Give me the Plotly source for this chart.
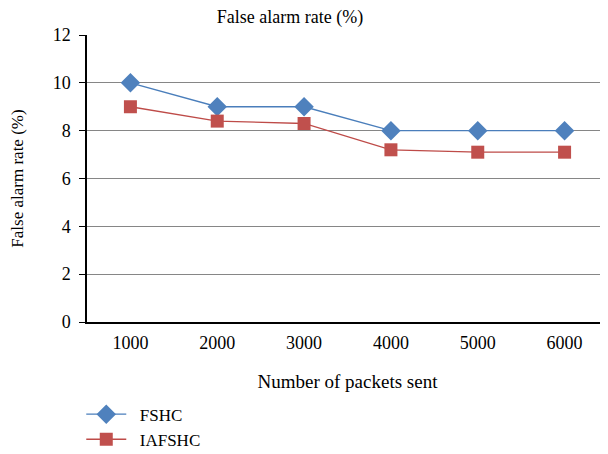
import plotly.graph_objects as go

categories = ["1000", "2000", "3000", "4000", "5000", "6000"]
fshc = [10, 9, 9, 8, 8, 8]
iafshc = [9.0, 8.4, 8.3, 7.2, 7.1, 7.1]
y_ticks = [0, 2, 4, 6, 8, 10, 12]

font_family = "Liberation Serif"
nb = "\u00a0\u00a0"

fig = go.Figure()
fig.add_trace(go.Scatter(
    x=categories, y=fshc, name=nb + "FSHC", mode="lines+markers",
    line=dict(color="#4A7EBB", width=1.3),
    marker=dict(symbol="diamond", size=15, color="#4F81BD"),
))
fig.add_trace(go.Scatter(
    x=categories, y=iafshc, name=nb + "IAFSHC", mode="lines+markers",
    line=dict(color="#BE4B48", width=1.3),
    marker=dict(symbol="square", size=13, color="#C0504D"),
))

# the page body adds an 8px offset; figure sized to fit the 608x454 window
fig.update_layout(
    width=600, height=446,
    margin=dict(l=79, r=0, t=27, b=132, autoexpand=False),
    paper_bgcolor="white", plot_bgcolor="white",
    font=dict(family=font_family, size=18, color="black"),
    title=dict(text="False alarm rate (%)", x=282 / 600, xref="container", xanchor="center",
               y=1 - 9 / 446, yref="container", yanchor="middle", font=dict(size=18)),
    showlegend=True,
    legend=dict(orientation="v", x=-0.011, xanchor="left", y=-0.26, yanchor="top",
                font=dict(size=17), tracegroupgap=0, itemwidth=40,
                bgcolor="rgba(0,0,0,0)"),
)
fig.update_xaxes(
    type="category", range=[-0.5, 5.5], automargin=False,
    showline=True, linecolor="black", linewidth=1.5,
    showgrid=False, ticks="", tickfont=dict(size=18), ticklabelstandoff=4,
    title=dict(text="Number of packets sent", font=dict(size=19), standoff=22),
)
fig.update_yaxes(
    range=[0, 12], tickvals=y_ticks, automargin=False,
    showline=True, linecolor="black", linewidth=1.5,
    showgrid=True, gridcolor="#868686", gridwidth=1.3,
    ticks="outside", ticklen=6, tickcolor="black",
    tickfont=dict(size=18), ticklabelstandoff=5,
    title=dict(text="False alarm rate (%)", font=dict(size=17), standoff=28),
    zeroline=False,
)

fig.write_html("out.html")
